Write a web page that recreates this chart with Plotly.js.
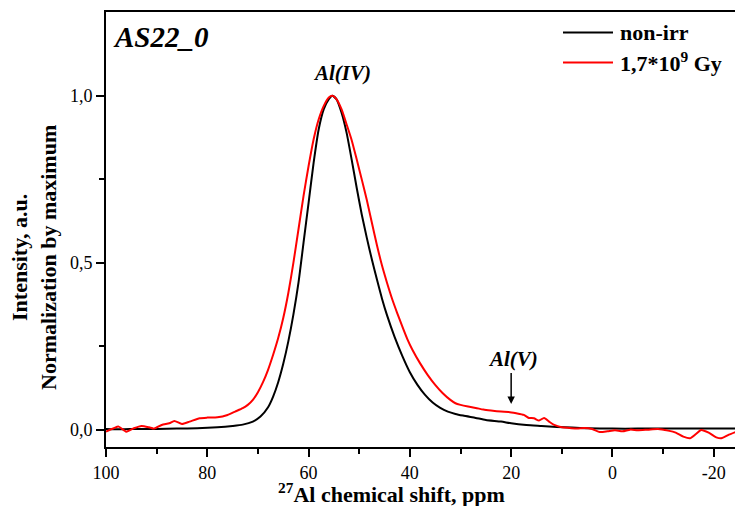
<!DOCTYPE html>
<html>
<head>
<meta charset="utf-8">
<script src="https://cdn.plot.ly/plotly-3.0.1.min.js"></script>
<style>html,body{margin:0;padding:0;background:#fff;overflow:hidden}#chart{width:735px;height:506px}</style>
</head>
<body>
<div id="chart"></div>
<script>
// ---- data ----
const shiftNonIrr = [100,97,94,90,86,82,78,75,73,71,69.5,68,67,66,65,64,63,62,61,60,59,58,57,56,55.3,54.5,53.5,52.5,51.5,50.5,49.5,48.5,47.5,46.5,45.5,44.5,43,41.5,40,38.5,37,35.5,34,32.5,31,29.5,27,25,22,20,17,14,11,8,5,0,-5,-10,-15,-20,-25];
const intNonIrr   = [0.003,0.002,0.003,0.003,0.004,0.005,0.008,0.012,0.016,0.025,0.04,0.068,0.1,0.143,0.198,0.265,0.345,0.44,0.56,0.68,0.80,0.90,0.96,0.99,1.0,0.99,0.95,0.89,0.81,0.725,0.645,0.575,0.51,0.45,0.393,0.343,0.278,0.222,0.173,0.135,0.105,0.082,0.066,0.055,0.048,0.043,0.036,0.03,0.025,0.02,0.015,0.012,0.009,0.007,0.005,0.004,0.004,0.004,0.004,0.004,0.004];

const shiftIrr = [100,98.5,97.5,96,94.5,93,91.5,90.5,89,87.5,86.5,85,83.5,81.5,80,78,76,74.5,73,72,71,70,69,68,67,66,65,64,63,62,61,60,59,58,57,56,55.3,54.5,53.5,52.5,51.5,50.5,49.5,48.5,47.5,46.5,45.5,44.5,43.5,42.5,41.5,40.5,39.5,38,36.5,35,33.5,32,31,30,28.5,27,25.5,24,22,20.5,19,17.5,16.5,15.5,14.5,13.5,12.5,11.5,10,8.5,7,5.5,4,2.5,1,-0.5,-2,-3.5,-5,-7,-9,-11,-12.5,-14,-15.3,-16.5,-17.5,-19,-20.5,-21.5,-23,-24.5];
const intIrr   = [-0.005,0.005,0.01,-0.005,0.005,0.012,0.008,0.004,0.015,0.02,0.027,0.018,0.025,0.035,0.037,0.038,0.045,0.055,0.065,0.075,0.09,0.113,0.143,0.18,0.225,0.275,0.335,0.41,0.5,0.6,0.7,0.79,0.87,0.93,0.97,0.995,1.0,0.99,0.96,0.915,0.868,0.81,0.75,0.688,0.62,0.553,0.492,0.44,0.392,0.35,0.31,0.272,0.24,0.20,0.165,0.135,0.11,0.09,0.08,0.075,0.07,0.066,0.061,0.058,0.055,0.054,0.05,0.045,0.036,0.035,0.028,0.036,0.025,0.015,0.008,0.006,0.004,0.006,0.003,-0.006,-0.004,-0.001,-0.004,0.001,-0.001,0.001,0.003,-0.002,-0.008,-0.02,-0.025,-0.012,0.0,-0.008,-0.022,-0.025,-0.014,-0.005];

const seriesNames = ['non-irr', '1,7*10<sup>9</sup> Gy'];
const xTickVals = [100,80,60,40,20,0,-20];
const xTickText = ['100','80','60','40','20','0','-20'];
const xMinorVals = [90,70,50,30,10,-10];
const yTickVals = [0,0.5,1];
const yTickText = ['0,0','0,5','1,0'];
const yMinorVals = [0.25,0.75];

// ---- layout helpers (pixel -> paper) ----
const L = 106, R = 735, T = 12, B = 447;
const px = v => (v - L) / (R - L);
const py = v => (B - v) / (B - T);

const FONT = 'Liberation Serif, Times New Roman, serif';

const traces = [
  {x: shiftNonIrr, y: intNonIrr, mode: 'lines', name: seriesNames[0],
   line: {color: '#000000', width: 2, shape: 'spline', smoothing: 0.6}},
  {x: shiftIrr, y: intIrr, mode: 'lines', name: seriesNames[1],
   line: {color: '#ff0000', width: 2, shape: 'spline', smoothing: 0.6}}
];

const axisCommon = {
  showgrid: false, zeroline: false, showline: true, linecolor: '#000', linewidth: 2,
  ticks: 'outside', ticklen: 8, tickwidth: 2, tickcolor: '#000',
  tickfont: {family: FONT, size: 18, color: '#000'}, fixedrange: true
};

const layout = {
  width: 735, height: 506,
  margin: {l: L, r: 735 - R, t: T, b: 506 - B},
  paper_bgcolor: '#fff', plot_bgcolor: '#fff',
  showlegend: false,
  xaxis: Object.assign({}, axisCommon, {
    range: [100, -24.2], tickmode: 'array', tickvals: xTickVals, ticktext: xTickText,
    mirror: true,
    minor: {tickmode: 'array', tickvals: xMinorVals, ticks: 'outside', ticklen: 5, tickwidth: 2, tickcolor: '#000'}
  }),
  yaxis: Object.assign({}, axisCommon, {
    range: [-0.051, 1.251], tickmode: 'array', tickvals: yTickVals, ticktext: yTickText,
    minor: {tickmode: 'array', tickvals: yMinorVals, ticks: 'outside', ticklen: 5, tickwidth: 2, tickcolor: '#000'}
  }),
  shapes: [
    {type: 'line', xref: 'paper', yref: 'paper', x0: px(563), x1: px(613), y0: py(32.5), y1: py(32.5), line: {color: '#000', width: 2}},
    {type: 'line', xref: 'paper', yref: 'paper', x0: px(563), x1: px(613), y0: py(62.5), y1: py(62.5), line: {color: '#ff0000', width: 2}}
  ],
  annotations: [
    {xref: 'paper', yref: 'paper', x: px(111), y: py(37), xanchor: 'left', yanchor: 'middle', showarrow: false,
     text: '<b><i>AS22_0</i></b>', font: {family: FONT, size: 29, color: '#000'}},
    {xref: 'paper', yref: 'paper', x: px(618), y: py(33), xanchor: 'left', yanchor: 'middle', showarrow: false,
     text: '<b>' + seriesNames[0] + '</b>', font: {family: FONT, size: 22, color: '#000'}},
    {xref: 'paper', yref: 'paper', x: px(618), y: py(62), xanchor: 'left', yanchor: 'middle', showarrow: false,
     text: '<b>' + seriesNames[1] + '</b>', font: {family: FONT, size: 22, color: '#000'}},
    {xref: 'x', yref: 'y', x: 53.4, y: 1.069, xanchor: 'center', yanchor: 'middle', showarrow: false,
     text: '<b><i>Al(IV)</i></b>', font: {family: FONT, size: 21, color: '#000'}},
    {xref: 'x', yref: 'y', x: 19.6, y: 0.212, xanchor: 'center', yanchor: 'middle', showarrow: false,
     text: '<b><i>Al(V)</i></b>', font: {family: FONT, size: 21, color: '#000'}},
    {xref: 'x', yref: 'y', x: 20, y: 0.078, axref: 'x', ayref: 'y', ax: 20, ay: 0.175,
     showarrow: true, arrowhead: 2, arrowsize: 1, arrowwidth: 1.5, arrowcolor: '#000', text: ''},
    {xref: 'paper', yref: 'paper', x: px(391), y: py(493), xanchor: 'center', yanchor: 'middle', showarrow: false,
     text: '<b><sup>27</sup>Al chemical shift, ppm</b>', font: {family: FONT, size: 22, color: '#000'}},
    {xref: 'paper', yref: 'paper', x: px(34), y: py(258), xanchor: 'center', yanchor: 'middle', showarrow: false,
     textangle: -90, text: '<b>Intensity, a.u.<br>Normalization by maximum</b>', font: {family: FONT, size: 22, color: '#000'}}
  ]
};

Plotly.newPlot('chart', traces, layout, {staticPlot: true, displayModeBar: false});
</script>
</body>
</html>
